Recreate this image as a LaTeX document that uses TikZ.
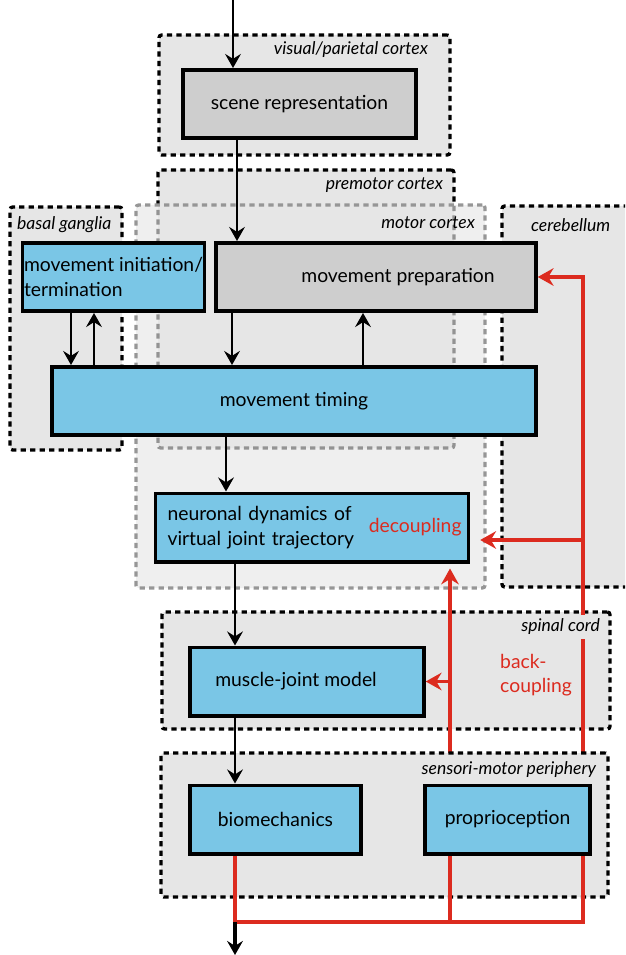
\documentclass[tikz,border=0pt]{standalone}
\usepackage{fontspec}
\setmainfont{Lato}
\usetikzlibrary{arrows.meta,fit}

\definecolor{areagray}{RGB}{230,230,230}
\definecolor{boxgray}{RGB}{206,206,206}
\definecolor{boxblue}{RGB}{122,198,230}
\definecolor{fbred}{RGB}{220,43,31}
\definecolor{midgray}{RGB}{150,150,150}

\begin{document}
\begin{tikzpicture}[
  x=0.02cm, y=-0.02cm,
  font=\fontsize{11}{14}\selectfont,
  grp/.style={draw, dash pattern=on 3pt off 2.4pt, line width=1.9pt, fill=areagray, rounded corners=1.5pt, inner sep=0pt},
  reglab/.style={font=\fontsize{10}{12}\selectfont\itshape, inner sep=1pt},
  blk/.style={draw, line width=2pt, minimum height=1.37cm, inner sep=4pt},
  bluebox/.style={blk, fill=boxblue},
  graybox/.style={blk, fill=boxgray},
  arr/.style={-{Stealth[length=8pt,width=9pt,inset=2.8pt]}, line width=1.1pt},
  fb/.style={fbred, line width=2pt},
  fbarr/.style={fb, -{Stealth[length=9pt,width=10pt,inset=3pt]}},
]
\clip (0,0) rectangle (625,955);

\node[grp, fit={(159,35) (450,155)}] (vis) {};
\node[reglab, anchor=east] at (430,50) {visual/parietal cortex};
\node[grp, fit={(158,170) (454,448)}] (premotor) {};
\node[reglab, anchor=east] at (445,185) {premotor cortex};
\node[grp, draw=midgray, fill opacity=0.64, fit={(136,205) (485,588)}] (motor) {};
\node[reglab, anchor=east] at (477,223) {motor cortex};
\node[grp, fit={(10,207) (122,450)}] (basal) {};
\node[reglab, anchor=west] at (15,225) {basal ganglia};
\node[grp, fit={(502,206) (660,587)}] (cereb) {};
\node[reglab, anchor=west] at (529,225) {cerebellum};
\node[grp, fit={(162,612) (610,729)}] (spinal) {};

\node[graybox, minimum width=4.66cm] (scene) at (299.5,104) {scene representation};
\node[bluebox, minimum width=3.54cm, inner xsep=1pt, align=left] (init) at (113.5,277) {movement initiation/\\termination};
\node[graybox, minimum width=6.4cm] (prep) at (376,277) {\hspace*{0.88cm}movement preparation};
\node[bluebox, minimum width=9.68cm] (timing) at (294,401) {movement timing};
\node[bluebox, text width=5.78cm, inner xsep=0.24cm, align=left,
  label={[text=fbred, anchor=east, xshift=-0.05cm]east:decoupling}] (neuro) at (312,527.5) {neuronal dynamics of\\virtual joint trajectory};
\node[bluebox, minimum width=4.68cm] (muscle) at (307,681.5) {muscle-joint model\hspace*{0.44cm}};

\coordinate (jl) at (235,922);
\coordinate (jm) at (450,922);
\coordinate (jr) at (583,922);
\coordinate (dc) at (583,540);
\coordinate (out) at (235,955);

\draw[fbarr] (jr) |- (prep.east);
\draw[fbarr, shorten >=0.2cm] (dc) -- (dc -| neuro.east);
\draw[fbarr, shorten >=0.1cm] (jm) -- (jm |- neuro.south);
\draw[fbarr] (jm |- muscle.east) -- (muscle.east);
\node[reglab, anchor=east, fill=areagray, inner ysep=2.5pt] at (602,627) {spinal cord};
\node[text=fbred, anchor=west, align=left] (bc) at (494,675) {back-\\coupling};

\node[grp, fit={(161,753) (608,897)}] (periph) {};
\node[reglab, anchor=east] at (598,770) {sensori-motor periphery};
\node[bluebox, minimum width=3.42cm] (bio) at (275.5,819.5) {biomechanics};
\node[bluebox, minimum width=3.3cm] (prop) at (507.5,819.5) {proprioception};

\draw[arr] (233,0) -- (scene.north -| 233,0);
\draw[arr] (scene.south -| 237,0) -- (prep.north -| 237,0);
\draw[arr] (init.south -| 71,0) -- (timing.north -| 71,0);
\draw[arr] (timing.north -| 94,0) -- (init.south -| 94,0);
\draw[arr] (prep.south -| 232,0) -- (timing.north -| 232,0);
\draw[arr] (timing.north -| 363,0) -- (prep.south -| 363,0);
\draw[arr] (timing.south -| 226,0) -- (neuro.north -| 226,0);
\draw[arr] (neuro.south -| 235,0) -- (muscle.north -| 235,0);
\draw[arr] (muscle.south -| 235,0) -- (bio.north -| 235,0);

\draw[fb] (bio.south -| jl) -- (jl) -- (jr) -- (jr |- prop.south);
\draw[fb] (jm) -- (jm |- prop.south);
\draw[arr, line width=1.8pt] (jl) -- (out);
\end{tikzpicture}
\end{document}
